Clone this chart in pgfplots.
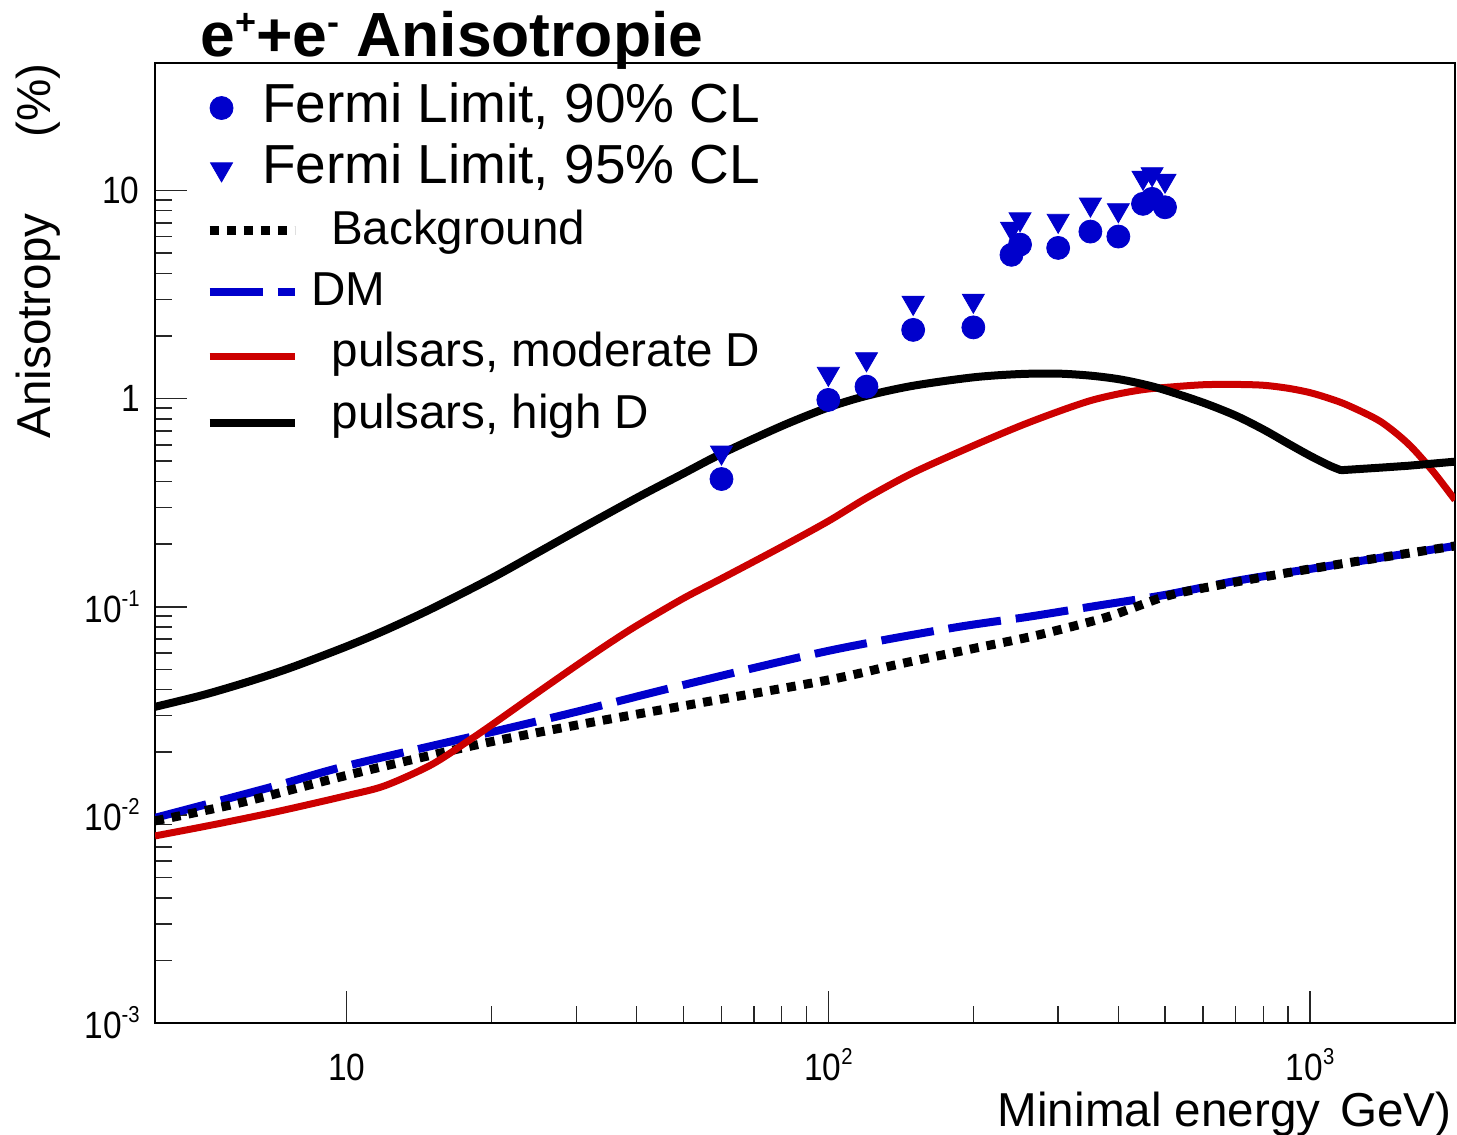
\documentclass[border=0pt]{standalone}
\usepackage{fontspec}
\setmainfont{Liberation Sans}
\newfontfamily\tickfamily[FakeStretch=0.88]{Liberation Sans}
\usepackage{pgfplots}
\usepackage{pgfplotstable}
\pgfplotsset{compat=1.18}

\definecolor{fermiblue}{RGB}{0,0,204}
\definecolor{pulsarred}{RGB}{204,0,0}

% superscripts for tick labels and the title
\newcommand\tlsup[1]{\raisebox{8pt}{\fontsize{11.5}{11.5}\selectfont #1}}
\newcommand\ttsup[1]{\raisebox{11pt}{\fontsize{18}{18}\selectfont #1}}

\tikzset{
  bgline/.style={black, line width=4.5pt, dash pattern=on 4.5pt off 4pt},
  dmline/.style={fermiblue, line width=4pt, dash pattern=on 26.5pt off 7.5pt},
  modline/.style={pulsarred, line width=3.5pt, line join=round},
  highline/.style={black, line width=4pt, line join=round, line cap=round},
}
\pgfplotsset{
  markleg/.style={legend image code/.code={\draw[##1] plot coordinates {(6pt,2.3pt)};}},
  lineleg/.style={legend image code/.code={\draw[##1] (0pt,#1) -- (42.5pt,#1);}},
}

% pulsars, high diffusion: rising branch up to the break
\pgfplotstableread{
E A
4 0.03305
5 0.03753
6 0.04240
7 0.04747
8 0.05291
10 0.06451
12 0.07700
15 0.09781
20 0.1372
25 0.1828
30 0.2314
40 0.3335
50 0.4368
60 0.5439
80 0.7385
100 0.9073
120 1.0315
150 1.1534
200 1.266
250 1.313
300 1.319
350 1.290
400 1.241
450 1.174
500 1.100
600 0.9567
700 0.8302
800 0.7110
900 0.6088
1000 0.5315
1100 0.4758
1160 0.4531
}\highD

% pulsars, high diffusion: above the break
\pgfplotstableread{
E A
1160 0.4531
1400 0.4660
1600 0.4760
2000 0.4980
}\highDtail

% pulsars, moderate diffusion
\pgfplotstableread{
E A
4 0.007925
5 0.008745
6 0.009515
7 0.010247
8 0.010975
10 0.012372
12 0.013802
15 0.017429
18 0.022909
20 0.027057
25 0.038960
30 0.052264
35 0.066527
40 0.081116
50 0.10973
60 0.13665
80 0.19428
100 0.25792
120 0.33318
150 0.44066
200 0.59429
250 0.73911
300 0.86696
350 0.97814
400 1.0534
450 1.1048
500 1.1319
600 1.1663
700 1.1703
800 1.1598
900 1.1220
1000 1.0686
1100 1.0
1200 0.9275
1400 0.7770
1600 0.6061
1800 0.4472
2000 0.3258
}\modD

% dark matter
\pgfplotstableread{
E A
4 0.00968
7 0.01364
10 0.0172
20 0.0250
30 0.0313
50 0.0421
100 0.0614
180 0.0790
260 0.0895
360 0.1010
500 0.114
700 0.133
1000 0.152
2000 0.196
}\dmtab

% background
\pgfplotstableread{
E A
4 0.00936
6 0.01142
10 0.01549
15 0.01937
20 0.02249
30 0.0270
50 0.0334
100 0.0445
140 0.0530
200 0.0630
270 0.0728
370 0.0878
430 0.0990
500 0.112
600 0.123
1000 0.152
2000 0.196
}\bgtab

% Fermi upper limits
\pgfplotstableread{
E A
60 0.411
100 0.986
120 1.142
150 2.14
200 2.20
240 4.91
250 5.50
300 5.30
350 6.35
400 6.01
450 8.63
470 9.12
500 8.31
}\fermininety

\pgfplotstableread{
E A
60 0.552
100 1.318
120 1.549
150 2.89
200 2.96
240 6.57
250 7.29
300 7.17
350 8.57
400 8.06
450 11.55
470 12.0
500 11.17
}\fermininetyfive

\begin{document}
\begin{tikzpicture}
\begin{axis}[
  name=ax,
  scale only axis, width=650pt, height=480pt,
  xmode=log, ymode=log,
  xmin=4, xmax=2000, ymin=1e-3, ymax=41,
  xtick={10,100,1000},
  xticklabels={10,10\tlsup{2},10\tlsup{3}},
  ytick={0.001,0.01,0.1,1,10},
  yticklabels={10\tlsup{-3},10\tlsup{-2},10\tlsup{-1},1,10},
  tick pos=left,
  major tick length=16pt, minor tick length=8.5pt,
  tick style={line width=0.8pt, black!85},
  axis line style={line width=1.2pt},
  tick label style={font=\tickfamily\fontsize{19}{19}\selectfont, inner sep=0pt},
  xticklabel style={anchor=base, yshift=-28.5pt},
  yticklabel style={anchor=east, xshift=-7.5pt},
  legend cell align=left,
  legend style={draw=none, fill=none,
    at={(axis description cs:0.0385,0.9802)}, anchor=north west,
    inner sep=0pt, outer sep=0pt, row sep=0pt, column sep=0pt,
    nodes={inner sep=0pt, text height=20pt, text depth=10.6pt}},
]
\addlegendimage{only marks, mark=*, mark size=5.75pt, color=fermiblue, markleg}
\addlegendentry{\fontsize{27.5}{27.5}\selectfont\hspace*{-18.5pt}Fermi Limit, 90\% CL}
\addlegendimage{only marks, mark=triangle*, mark size=6.35pt, mark options={rotate=180}, color=fermiblue, markleg}
\addlegendentry{\fontsize{27.5}{27.5}\selectfont\hspace*{-18.5pt}Fermi Limit, 95\% CL}
\addlegendimage{bgline, lineleg=2.3pt}
\addlegendentry{\fontsize{23.8}{23.8}\selectfont\hspace*{16pt}Background}
\addlegendimage{dmline, lineleg=2.3pt}
\addlegendentry{\fontsize{23.8}{23.8}\selectfont\hspace*{6pt}DM}
\addlegendimage{modline, lineleg=0.5pt}
\addlegendentry{\fontsize{23.8}{23.8}\selectfont\hspace*{16.4pt}pulsars, moderate D}
\addlegendimage{highline, line cap=butt, lineleg=-2pt}
\addlegendentry{\fontsize{23.8}{23.8}\selectfont\hspace*{16.4pt}pulsars, high D}

\addplot[dmline, smooth, forget plot] table[x=E, y=A] {\dmtab};
\addplot[bgline, smooth, forget plot] table[x=E, y=A] {\bgtab};
\addplot[modline, smooth, forget plot] table[x=E, y=A] {\modD};
\addplot[highline, smooth, forget plot] table[x=E, y=A] {\highD};
\addplot[highline, forget plot] table[x=E, y=A] {\highDtail};
\addplot[only marks, mark=*, mark size=5.75pt, color=fermiblue, forget plot]
  table[x=E, y=A] {\fermininety};
\addplot[only marks, mark=triangle*, mark size=6.35pt, mark options={rotate=180}, color=fermiblue, forget plot]
  table[x=E, y=A] {\fermininetyfive};
\end{axis}

\node[anchor=base west, inner sep=0pt, font=\fontsize{31.2}{31.2}\selectfont\bfseries]
  at ([xshift=22.5pt, yshift=3pt]ax.north west) {e\ttsup{+}+e\ttsup{-} Anisotropie};
\node[rotate=90, anchor=base east, inner sep=0pt, font=\fontsize{23.8}{23.8}\selectfont]
  at ([xshift=-52pt]ax.north west) {Anisotropy\hspace{38pt}(\%)};
\node[anchor=base east, inner sep=0pt, font=\fontsize{23.8}{23.8}\selectfont]
  at ([xshift=-1.5pt, yshift=-52pt]ax.south east) {Minimal energy\hspace{10pt}GeV)};

\pgfresetboundingbox
\path[use as bounding box] ([shift={(-77.5pt,-56pt)}]ax.south west)
  rectangle ([shift={(1pt,31.5pt)}]ax.north east);
\end{tikzpicture}
\end{document}
